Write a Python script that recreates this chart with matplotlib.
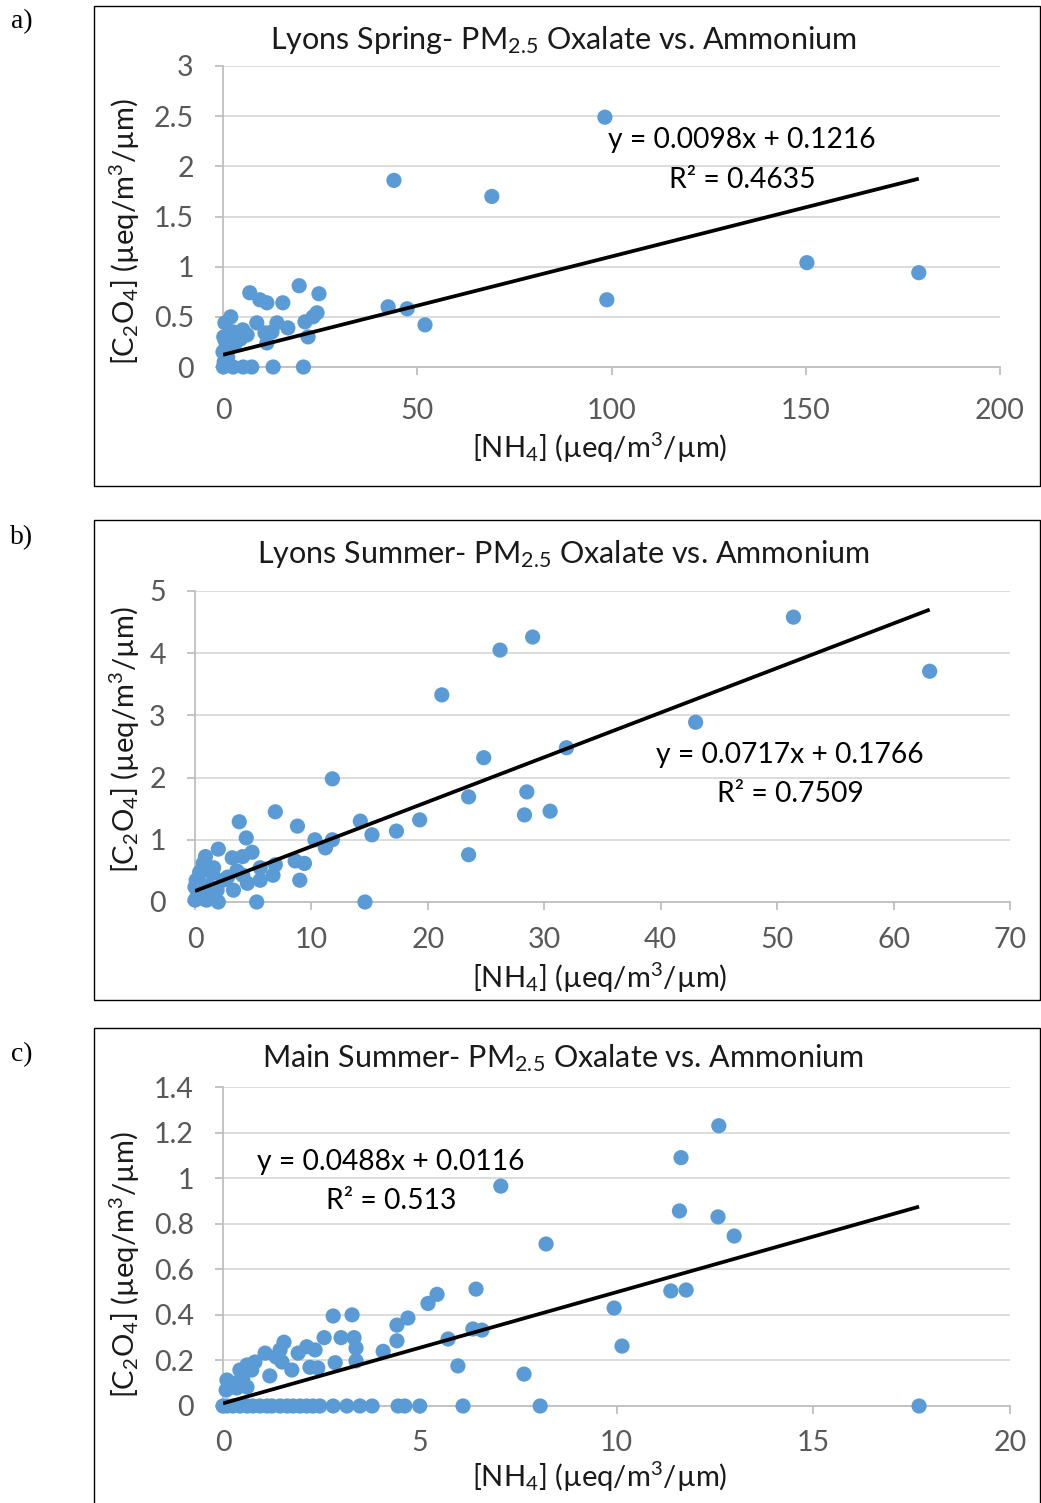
import numpy as np
import matplotlib
matplotlib.use("Agg")
import matplotlib.pyplot as plt
from matplotlib.patches import Rectangle

plt.rcParams['font.family'] = ['Lato', 'DejaVu Sans']
plt.rcParams['mathtext.default'] = 'regular'

# a) Lyons spring
spring_nh4 = [98.3, 44.0, 69.2, 150.3, 179.1, 98.8, 52.0, 42.5, 47.4, 6.9, 9.5, 11.3, 15.4, 19.6,
              24.7, 24.2, 23.2, 21.1, 21.9, 2.0, 0.5, 5.1, 8.7, 13.9, 16.7, 10.8, 11.3, 12.6, 2.6,
              0.5, 0.0, 3.6, 6.2, 0.1, 2.6, 5.2, 7.4, 12.9, 20.7, 0.3, 1.2, 0.8, 1.5, 0.2, 3.0, 4.5]
spring_ox = [2.49, 1.86, 1.70, 1.04, 0.94, 0.67, 0.42, 0.60, 0.58, 0.74, 0.67, 0.64, 0.64, 0.81,
             0.73, 0.54, 0.50, 0.45, 0.30, 0.50, 0.44, 0.37, 0.44, 0.44, 0.39, 0.34, 0.24, 0.35, 0.35,
             0.27, 0.15, 0.27, 0.32, 0.0, 0.0, 0.0, 0.0, 0.0, 0.0, 0.05, 0.10, 0.20, 0.02, 0.30, 0.22, 0.28]

# b) Lyons summer
summer_nh4 = [51.4, 63.1, 29.0, 26.2, 21.2, 43.0, 31.9, 24.8, 11.8, 28.5, 23.5, 30.5, 28.3, 19.3, 17.3,
              14.2, 15.2, 23.5, 14.6, 6.9, 8.8, 3.8, 4.4, 2.0, 10.3, 11.2, 11.8, 9.0, 5.3, 0.9,
              3.2, 4.9, 4.1, 8.6, 9.4, 6.9, 5.6, 1.5, 0.4, 0.7, 6.7, 5.6, 4.5, 3.3, 0.0,
              1.9, 0.0, 2.0, 1.0, 2.4, 4.1, 0.2, 0.5, 0.3, 1.2, 0.8, 0.1, 1.6, 2.8, 3.6]
summer_ox = [4.58, 3.71, 4.26, 4.05, 3.33, 2.89, 2.48, 2.32, 1.98, 1.77, 1.69, 1.46, 1.40, 1.32, 1.14,
             1.30, 1.08, 0.76, 0.0, 1.45, 1.22, 1.29, 1.03, 0.85, 1.0, 0.87, 1.0, 0.35, 0.0, 0.73,
             0.71, 0.80, 0.73, 0.66, 0.62, 0.60, 0.55, 0.46, 0.48, 0.62, 0.43, 0.35, 0.30, 0.19, 0.24,
             0.19, 0.03, 0.0, 0.03, 0.35, 0.43, 0.10, 0.30, 0.20, 0.25, 0.05, 0.35, 0.55, 0.40, 0.50]

# c) Main summer
main_nh4 = [12.6, 11.64, 7.06, 11.6, 12.58, 12.99, 8.21, 11.38, 11.77, 9.94, 10.14, 7.65, 8.06, 17.69,
            6.43, 5.44, 5.21, 6.35, 6.58, 5.72, 5.97, 4.70, 4.42, 4.42, 4.07, 2.80, 3.28, 2.57, 3.0,
            3.33, 3.38, 3.38, 2.85, 2.34, 2.13, 2.21, 2.41, 1.91, 1.75, 1.55, 1.45, 1.35, 1.07, 1.50,
            1.19, 0.81, 0.61, 0.43, 0.73, 0.61, 0.10, 0.08, 0.35, 0.22, 0.5, 0.3,
            0.0, 0.1, 0.25, 0.43, 0.61, 0.76, 0.94, 1.12, 1.24, 1.45, 1.63, 1.78, 1.96, 2.13, 2.29,
            2.46, 2.80, 3.15, 3.48, 3.79, 4.45, 4.62, 5.0, 6.10]
main_ox = [1.23, 1.09, 0.965, 0.856, 0.83, 0.746, 0.711, 0.505, 0.509, 0.43, 0.263, 0.14, 0.0, 0.0,
           0.513, 0.49, 0.45, 0.338, 0.333, 0.294, 0.176, 0.386, 0.355, 0.286, 0.24, 0.395, 0.40, 0.30, 0.30,
           0.30, 0.254, 0.198, 0.19, 0.246, 0.26, 0.17, 0.167, 0.232, 0.158, 0.28, 0.246, 0.215, 0.232, 0.193,
           0.132, 0.193, 0.18, 0.158, 0.158, 0.083, 0.114, 0.07, 0.079, 0.083, 0.12, 0.10,
           0.0, 0.0, 0.0, 0.0, 0.0, 0.0, 0.0, 0.0, 0.0, 0.0, 0.0, 0.0, 0.0, 0.0, 0.0,
           0.0, 0.0, 0.0, 0.0, 0.0, 0.0, 0.0, 0.0, 0.0]

# trendline coefficients (slope, intercept, x end)
fits = [(0.0098, 0.1216, 179.1), (0.0717, 0.1766, 63.1), (0.0488, 0.0116, 17.69)]
eq_text = [("y = 0.0098x + 0.1216", "R² = 0.4635"),
           ("y = 0.0717x + 0.1766", "R² = 0.7509"),
           ("y = 0.0488x + 0.0116", "R² = 0.513")]
eq_pos = [(133.6, 2.26, 1.86), (51.1, 2.36, 1.74), (4.27, 1.07, 0.90)]

titles = ["Lyons Spring- PM$_{2.5}$ Oxalate vs. Ammonium",
          "Lyons Summer- PM$_{2.5}$ Oxalate vs. Ammonium",
          "Main Summer- PM$_{2.5}$ Oxalate vs. Ammonium"]
panel_tags = ["a)", "b)", "c)"]
xlims = [200, 70, 20]
xsteps = [50, 10, 5]
ylims = [3, 5, 1.4]
ysteps = [0.5, 1, 0.2]

W, H = 1041, 1503
fig = plt.figure(figsize=(W / 100, H / 100), dpi=100)

# pixel layouts: axes (left, right, top, bottom), frame (top, bottom), title y, xlabel y, ylabel y
ax_px = [(223, 1000, 66, 367), (195, 1010, 591, 902), (223, 1010, 1087, 1406)]
frame_px = [(6, 486), (520, 1000), (1028, 1510)]
title_y = [40, 554, 1058]
xlab_y = [448, 978, 1477]
ylab_y = [232, 740, 1265]
tag_y = [22, 538, 1055]
xpads = [16, 12, 11]

blue = '#5B9BD5'
gray_txt = '#595959'
dark_txt = '#1a1a1a'
datasets = [(spring_nh4, spring_ox), (summer_nh4, summer_ox), (main_nh4, main_ox)]

for i in range(3):
    l, r, t, b = ax_px[i]
    ax = fig.add_axes([l / W, 1 - b / H, (r - l) / W, (b - t) / H])
    x, y = datasets[i]
    ax.scatter(x, y, s=120, color=blue, edgecolors='none', zorder=3, clip_on=False)
    m, c, xe = fits[i]
    xs = np.array([0, xe])
    ax.plot(xs, m * xs + c, color='black', lw=2.7, zorder=4, solid_capstyle='butt')

    ax.set_xlim(0, xlims[i])
    ax.set_ylim(0, ylims[i])
    ax.set_xticks(np.arange(0, xlims[i] + 0.001, xsteps[i]))
    yt = np.arange(0, ylims[i] + 0.001, ysteps[i])
    ax.set_yticks(yt)
    ax.set_yticklabels(['{:g}'.format(round(v, 2)) for v in yt])
    ax.yaxis.grid(True, color='#D9D9D9', lw=1.3)
    ax.set_axisbelow(True)
    for s in ['top', 'right']:
        ax.spines[s].set_visible(False)
    for s in ['left', 'bottom']:
        ax.spines[s].set_color('#BFBFBF')
        ax.spines[s].set_linewidth(1.3)
    ax.tick_params(axis='both', direction='out', length=6, width=1.3, color='#BFBFBF',
                   labelcolor=gray_txt, labelsize=20.5)
    ax.tick_params(axis='x', pad=xpads[i])
    ax.tick_params(axis='y', pad=15)

    ex, ey1, ey2 = eq_pos[i]
    ax.text(ex, ey1, eq_text[i][0], ha='center', va='center', fontsize=20.3, color='black')
    ax.text(ex, ey2, eq_text[i][1], ha='center', va='center', fontsize=20.3, color='black')

    ft, fb = frame_px[i]
    fig.patches.append(Rectangle((94 / W, 1 - fb / H), (1040 - 94) / W, (fb - ft) / H,
                                 transform=fig.transFigure, fill=False, ec='black', lw=1.0))

    fig.text(563 / W, 1 - title_y[i] / H, titles[i], ha='center', va='center', fontsize=22,
             color=dark_txt)
    fig.text(600 / W, 1 - xlab_y[i] / H, "[NH$_4$] (µeq/m$^3$/µm)", ha='center', va='center',
             fontsize=21, color=dark_txt)
    fig.text(125 / W, 1 - ylab_y[i] / H, "[C$_2$O$_4$] (µeq/m$^3$/µm)", ha='center', va='center',
             fontsize=21, color=dark_txt, rotation=90)
    fig.text(22 / W, 1 - tag_y[i] / H, panel_tags[i], ha='center', va='center', fontsize=20,
             family='Liberation Serif', color='black')

fig.savefig('out.png', dpi=100)
